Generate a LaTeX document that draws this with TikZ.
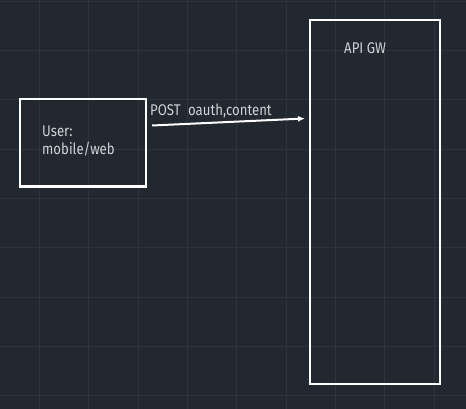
\documentclass[tikz,border=0pt]{standalone}
\usepackage{fontspec}
\setmainfont[FakeStretch=0.85]{Fira Sans}
\usetikzlibrary{arrows.meta,calc}
\definecolor{bg}{HTML}{212830}
\definecolor{gridc}{HTML}{2D343C}
\definecolor{txt}{HTML}{CFD2D6}
\tikzset{
  boxstyle/.style={draw=white, line width=2pt, fill=none, inner sep=0pt},
  lbl/.style={text=txt, font=\fontsize{15.5}{17}\selectfont, inner sep=0pt, anchor=base west, align=left},
  flow/.style={draw=white, line width=2pt, -{Latex[length=7pt,width=6pt]}}
}
\begin{document}
\begin{tikzpicture}[x=1pt,y=-1pt]
\fill[bg] (0,0) rectangle (466,409);
\useasboundingbox (0,0) rectangle (466,409);
\foreach \i in {0,...,8} {
  \draw[gridc, line width=1pt] ({39.5+49.35*\i},0) -- ({39.5+49.35*\i},409);
  \draw[gridc, line width=1pt] (0,{1.2+49.3*\i}) -- (466,{1.2+49.3*\i});
}
\node[boxstyle, minimum width=126pt, minimum height=87pt] (user) at (83,143) {};
\node[boxstyle, minimum width=130pt, minimum height=363pt] (api) at (375,202) {};
\node[lbl] (usertxt) at (42,137) {User:};
\node[lbl] (usertxt2) at (42,154) {mobile/web};
\node[lbl] (apitxt) at (344,54) {API GW};
\coordinate (s) at ($(user.north east)+(5,27)$);
\coordinate (e) at ($(api.north west)+(-4,99)$);
\draw[flow] (s) -- (e);
\node[lbl] (postlbl) at (150,115.5) {POST\hspace{4pt} oauth,content};
\end{tikzpicture}
\end{document}
